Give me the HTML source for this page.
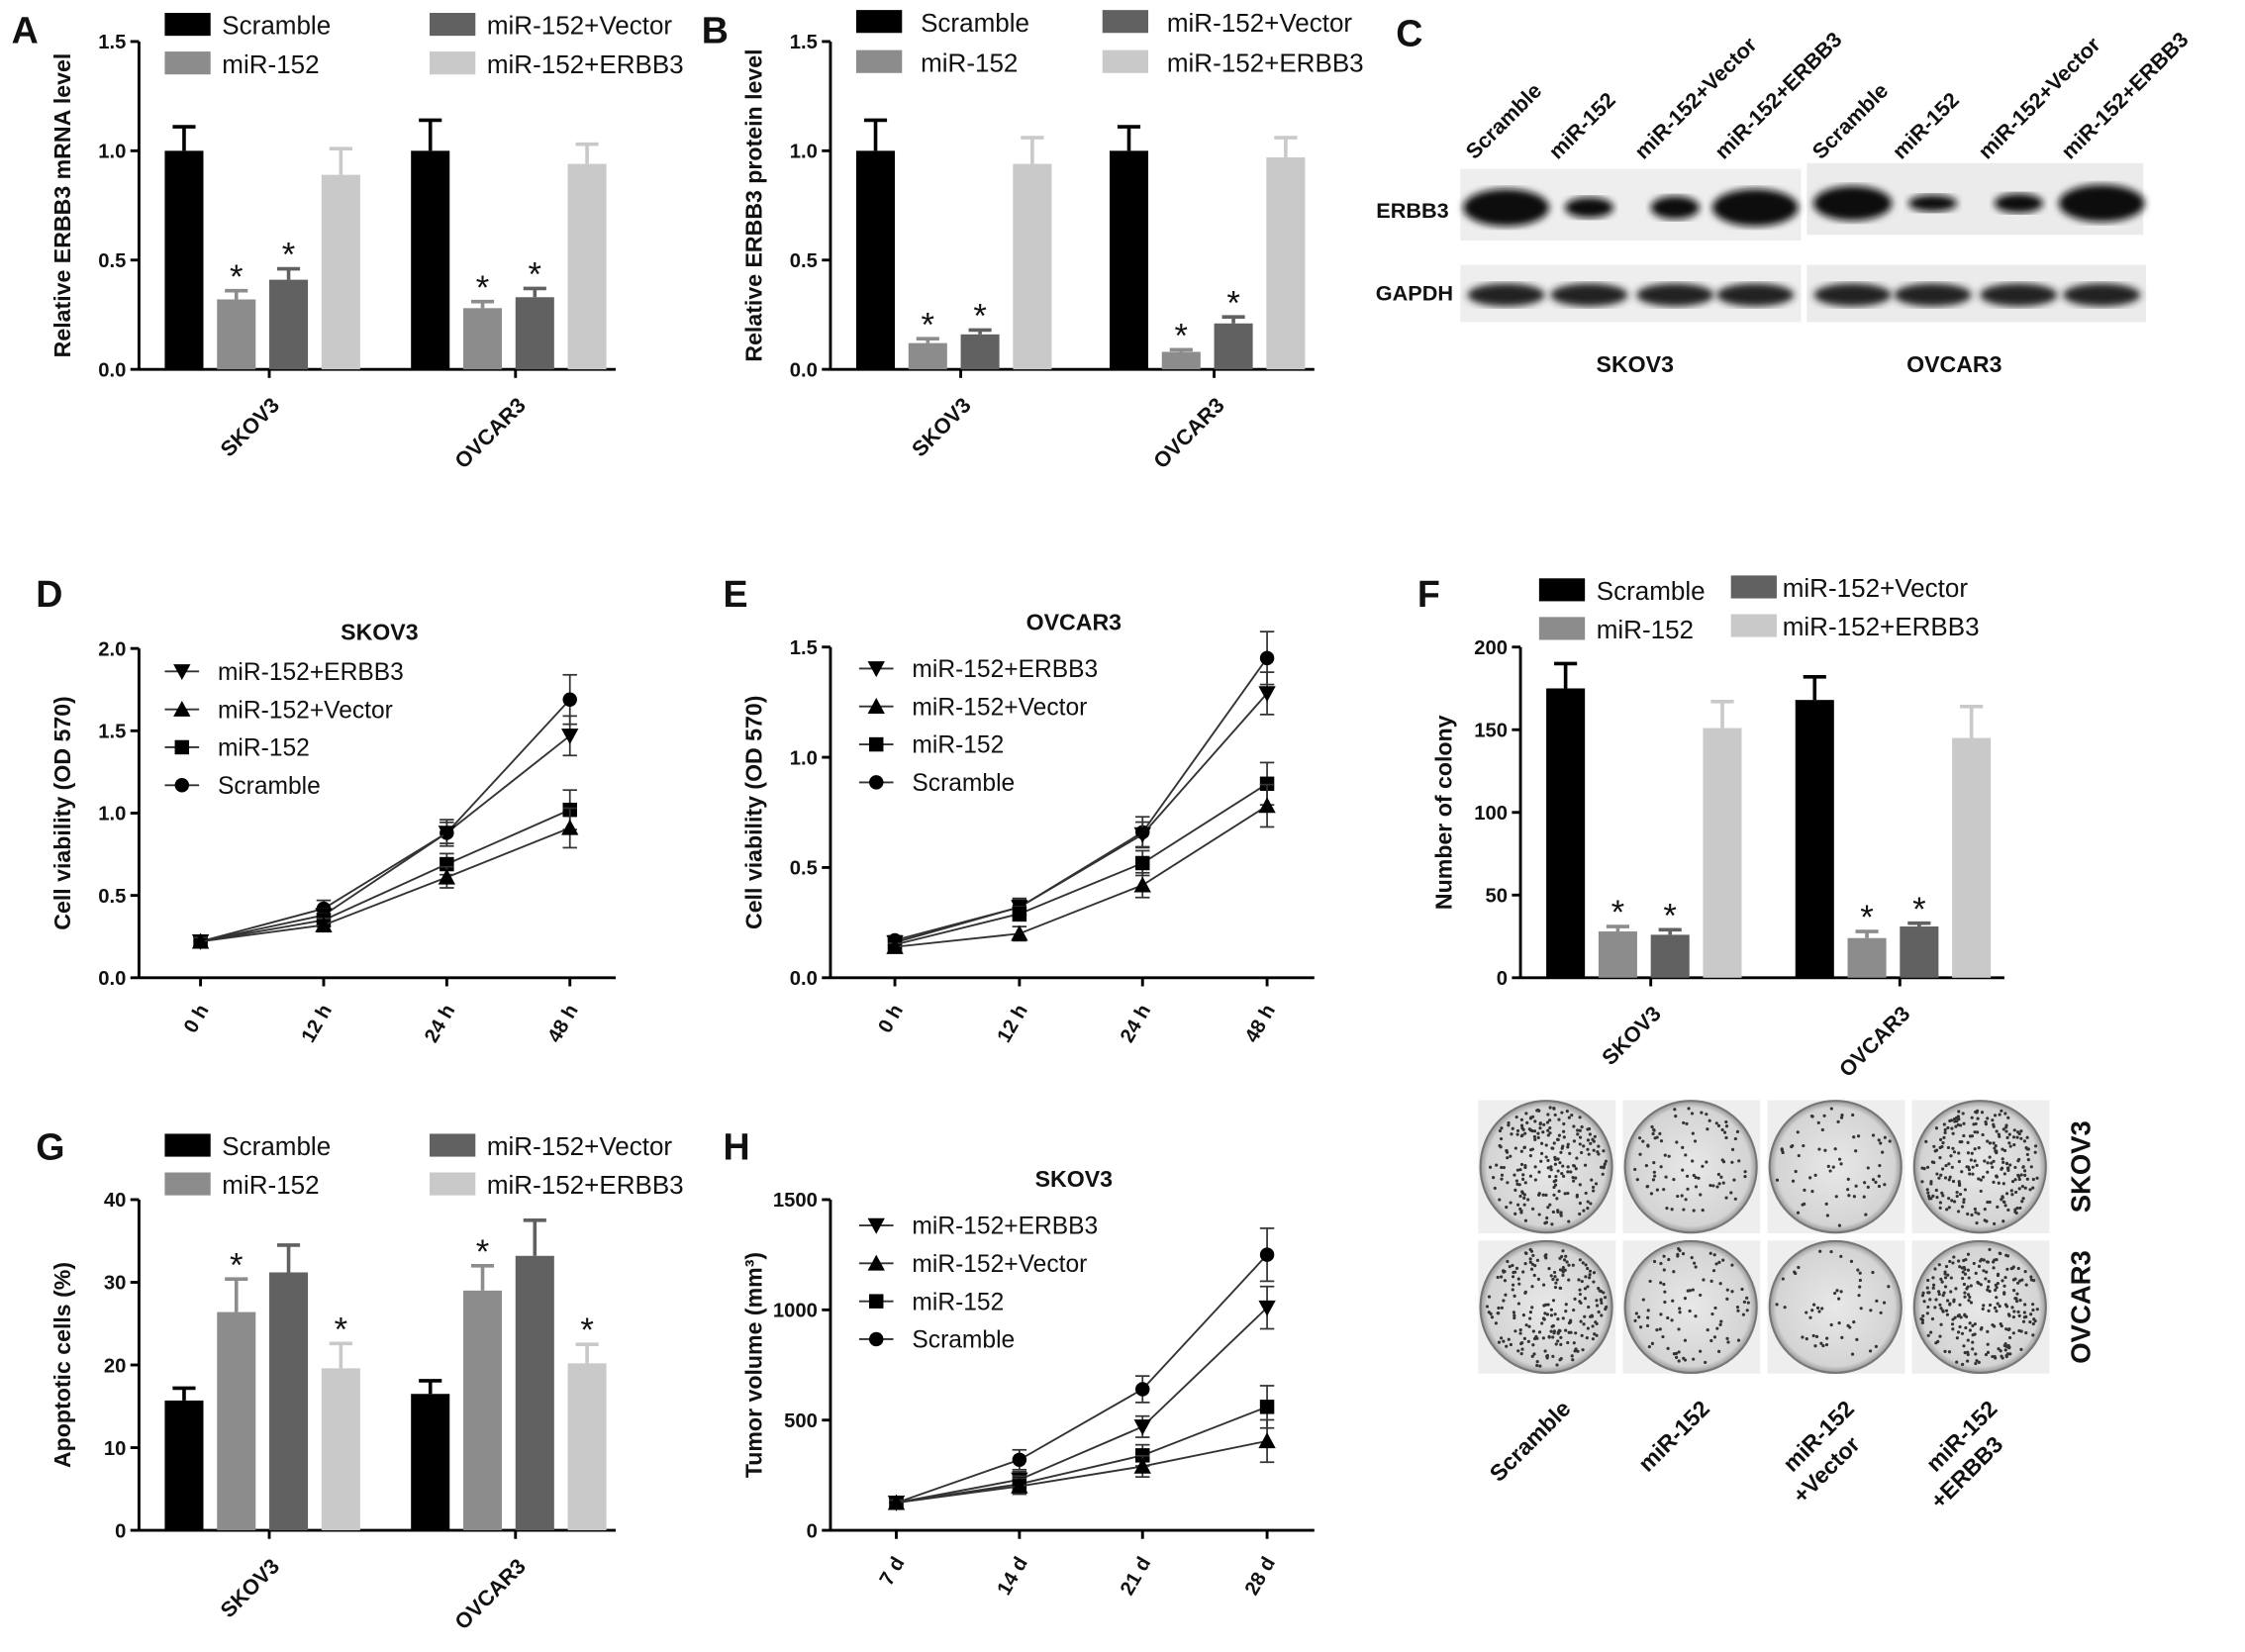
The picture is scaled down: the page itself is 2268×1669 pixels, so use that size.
<!DOCTYPE html>
<html><head><meta charset="utf-8"><style>
html,body{margin:0;padding:0;background:#fff}
svg{display:block}
text{font-family:"Liberation Sans",Arial,sans-serif}
</style></head><body>
<svg id="fig" width="2268" height="1669" viewBox="0 0 1568 1154" xmlns="http://www.w3.org/2000/svg">
<defs>
<filter id="blur"><feGaussianBlur stdDeviation="2.5"/></filter>
<radialGradient id="plate" cx="50%" cy="50%" r="50%"><stop offset="0" stop-color="#e8e8e8"/><stop offset="0.9" stop-color="#d4d4d4"/><stop offset="1" stop-color="#999"/></radialGradient>
</defs>
<g id="root"></g>
</svg>
<script>
// ---------- data ----------
const groups = ["SKOV3","OVCAR3"];
const barSeries = ["Scramble","miR-152","miR-152+Vector","miR-152+ERBB3"];
const barColors = ["#000000","#8c8c8c","#616161","#c9c9c9"];
// Panel A
const aVals = [[1.0,0.32,0.41,0.89],[1.0,0.28,0.33,0.94]];
const aErr  = [[0.11,0.04,0.05,0.12],[0.14,0.03,0.04,0.09]];
const aTicks = [0,0.5,1.0,1.5];
// Panel B
const bVals = [[1.0,0.12,0.16,0.94],[1.0,0.08,0.21,0.97]];
const bErr  = [[0.14,0.02,0.02,0.12],[0.11,0.01,0.03,0.09]];
// Panel F
const fVals = [[175,28,26,151],[168,24,31,145]];
const fErr  = [[15,3,3,16],[14,4,2,19]];
const fTicks = [0,50,100,150,200];
// Panel G
const gVals = [[15.7,26.4,31.2,19.6],[16.5,29.0,33.2,20.2]];
const gErr  = [[1.5,4.0,3.3,3.0],[1.6,3.0,4.3,2.3]];
const gTicks = [0,10,20,30,40];
// Panel D
const timeD = ["0 h","12 h","24 h","48 h"];
const dScr = [0.22,0.42,0.88,1.69];
const dErb = [0.22,0.38,0.88,1.47];
const dVec = [0.22,0.32,0.61,0.91];
const dMir = [0.22,0.35,0.69,1.02];
const dErrs = [0.03,0.05,0.08,0.15];
const dTicks = [0,0.5,1.0,1.5,2.0];
// Panel E
const eScr = [0.17,0.32,0.66,1.45];
const eErb = [0.16,0.32,0.65,1.29];
const eMir = [0.15,0.29,0.52,0.88];
const eVec = [0.14,0.20,0.42,0.78];
const eErrs = [0.02,0.04,0.07,0.12];
const eTicks = [0,0.5,1.0,1.5];
// Panel H
const timeH = ["7 d","14 d","21 d","28 d"];
const hScr = [125,320,640,1250];
const hErb = [125,230,470,1010];
const hMir = [125,210,340,560];
const hVec = [125,200,290,405];
const hErrs = [15,45,60,120];
const hTicks = [0,500,1000,1500];
const lineLegend = ["miR-152+ERBB3","miR-152+Vector","miR-152","Scramble"];
// Panel C
const blotLanes = ["Scramble","miR-152","miR-152+Vector","miR-152+ERBB3"];
const erbbSK = [1.0,0.35,0.45,1.0];
const erbbOV = [0.9,0.2,0.3,1.0];
const plateDensity = [[0.9,0.35,0.25,0.95],[0.85,0.35,0.2,0.95]];

// ---------- helpers ----------
const NS="http://www.w3.org/2000/svg";
const root=document.getElementById('root');
function el(tag,attrs,parent,txt){const e=document.createElementNS(NS,tag);for(const k in attrs)e.setAttribute(k,attrs[k]);if(txt!==undefined)e.textContent=txt;(parent||root).appendChild(e);return e;}
function grp(name,parent){const g=el('g',{},parent);


return g;}
function label(g,x,y,t,size,opts){opts=opts||{};const a={x:x,y:y,'font-size':size,'font-weight':opts.w||'normal','text-anchor':opts.a||'start',fill:'#111'};if(opts.rot!==undefined)a.transform=`rotate(${opts.rot} ${x} ${y})`;return el('text',a,g,t);}

function yAxis(g,x0,y0,y1,ticks,vmax,title,fmt){
  const sy=v=>y0-(v/vmax)*(y0-y1);
  el('line',{x1:x0,y1:y0,x2:x0,y2:y1,stroke:'#000','stroke-width':2},g);
  ticks.forEach(t=>{el('line',{x1:x0-6,y1:sy(t),x2:x0,y2:sy(t),stroke:'#000','stroke-width':2},g);
    label(g,x0-9,sy(t)+5,fmt(t),14,{w:'bold',a:'end'});});
  label(g,x0-48,(y0+y1)/2,title,16,{w:'bold',a:'middle',rot:-90});
  return sy;
}
function star(g,x,y){label(g,x,y+10,'*',24,{a:'middle'});}

function barPanel(name,x0,y0,y1,xEnd,ticks,vmax,vals,errs,starIdx,title,fmt,groupX,legendPos){
  const g=grp(name);
  const sy=yAxis(g,x0,y0,y1,ticks,vmax,title,fmt);
  el('line',{x1:x0,y1:y0,x2:xEnd,y2:y0,stroke:'#000','stroke-width':2},g);
  const bw=27, step=36.5;
  groups.forEach((gr,gi)=>{
    vals[gi].forEach((v,si)=>{
      const bx=groupX[gi]+si*step;
      const b=el('rect',{x:bx,y:sy(v),width:bw,height:y0-sy(v),fill:barColors[si]},g);
      
      
      const cx=bx+bw/2, top=sy(v+errs[gi][si]);
      el('line',{x1:cx,y1:sy(v),x2:cx,y2:top,stroke:barColors[si],'stroke-width':2.5},g);
      el('line',{x1:cx-8,y1:top,x2:cx+8,y2:top,stroke:barColors[si],'stroke-width':2.5},g);
      if(starIdx.includes(si)) star(g,cx,top-12);
    });
    const mx=groupX[gi]+2*step;
    label(g,mx+8,y0+26,gr,15,{w:'bold',a:'end',rot:-45});
    el('line',{x1:mx,y1:y0,x2:mx,y2:y0+6,stroke:'#000','stroke-width':2},g);
  });
  legendPos.forEach((p,i)=>{
    el('rect',{x:p[0],y:p[1]-8,width:32,height:16,fill:barColors[i]},g);
    label(g,p[0]+p[2],p[1]+7,barSeries[i],18);
  });
}

function marker(g,type,x,y){
  const s=6;
  if(type==='circle') el('circle',{cx:x,cy:y,r:5,fill:'#000'},g);
  else if(type==='square') el('rect',{x:x-5,y:y-5,width:10,height:10,fill:'#000'},g);
  else if(type==='up') el('polygon',{points:`${x},${y-s} ${x-s},${y+5} ${x+s},${y+5}`,fill:'#000'},g);
  else el('polygon',{points:`${x},${y+s} ${x-s},${y-5} ${x+s},${y-5}`,fill:'#000'},g);
}
function linePanel(name,x0,y0,y1,xEnd,ticks,vmax,xs,xlabels,series,types,errs,title,ytitle,fmt,legX,legY,titleX,titleY){
  const g=grp(name);
  const sy=yAxis(g,x0,y0,y1,ticks,vmax,ytitle,fmt);
  el('line',{x1:x0,y1:y0,x2:xEnd,y2:y0,stroke:'#000','stroke-width':2},g);
  xs.forEach((x,i)=>{el('line',{x1:x,y1:y0,x2:x,y2:y0+6,stroke:'#000','stroke-width':2},g);
    label(g,x+6,y0+22,xlabels[i],14,{w:'bold',a:'end',rot:-60});});
  series.forEach((s,k)=>{
    const pts=s.map((v,i)=>xs[i]+','+sy(v)).join(' ');
    const pl=el('polyline',{points:pts,fill:'none',stroke:'#333','stroke-width':1.3},g);
    
    
    s.forEach((v,i)=>{
      const e=errs[i]*(k===0?1:0.8);
      el('line',{x1:xs[i],y1:sy(v-e),x2:xs[i],y2:sy(v+e),stroke:'#333','stroke-width':1.2},g);
      el('line',{x1:xs[i]-5,y1:sy(v+e),x2:xs[i]+5,y2:sy(v+e),stroke:'#333','stroke-width':1.2},g);
      el('line',{x1:xs[i]-5,y1:sy(v-e),x2:xs[i]+5,y2:sy(v-e),stroke:'#333','stroke-width':1.2},g);
      marker(g,types[k],xs[i],sy(v));
    });
  });
  const legTypes=['down','up','square','circle'];
  lineLegend.forEach((t,i)=>{const y=legY+i*26.5;
    el('line',{x1:legX-12,y1:y,x2:legX+12,y2:y,stroke:'#333','stroke-width':1.3},g);
    marker(g,legTypes[i],legX,y);
    label(g,legX+25,y+6,t,17);});
  label(g,titleX,titleY,title,16,{w:'bold',a:'middle'});
}
const f1=v=>v.toFixed(1), f0=v=>String(v);

[["A",8,30],["B",490,30],["C",975,32],["D",25,424],["E",505,424],["F",990,424],["G",25,810],["H",505,810]].forEach(p=>{
  const t=label(root,p[1],p[2],p[0],26,{w:'bold'});
  
  
});

function L(c1x,c2x,y1,y2,off){return [[c1x,y1,off],[c1x,y2,off],[c2x,y1,off],[c2x,y2,off]];}
barPanel('panel-a-mrna-chart',97,258,29,430,aTicks,1.5,aVals,aErr,[1,2],'Relative ERBB3 mRNA level',f1,[115,287],L(115,300,17,44,40));
barPanel('panel-b-protein-chart',580,258,29,918,aTicks,1.5,bVals,bErr,[1,2],'Relative ERBB3 protein level',f1,[598,775],L(598,770,15,43,45));
barPanel('panel-f-colony-chart',1062,683,452,1400,fTicks,200,fVals,fErr,[1,2],'Number of colony',f0,[1080,1254],[[1075,412,40],[1075,439,40],[1209,410,36],[1209,437,36]]);
barPanel('panel-g-apoptosis-chart',97,1069,838,430,gTicks,40,gVals,gErr,[1,3],'Apoptotic cells (%)',f0,[115,287],L(115,300,800,827,40));

linePanel('panel-d-skov3-viability',97,683,453,430,dTicks,2.0,[140,226,312,398],timeD,[dScr,dErb,dMir,dVec],['circle','down','square','up'],dErrs,'SKOV3','Cell viability (OD 570)',f1,127,469,265,447);
linePanel('panel-e-ovcar3-viability',580,683,452,918,eTicks,1.5,[625,712,798,885],timeD,[eScr,eErb,eMir,eVec],['circle','down','square','up'],eErrs,'OVCAR3','Cell viability (OD 570)',f1,612,467,750,440);
linePanel('panel-h-tumor-volume',580,1069,838,918,hTicks,1500,[626,712,798,885],timeH,[hScr,hErb,hMir,hVec],['circle','down','square','up'],hErrs,'SKOV3','Tumor volume (mm³)',f0,612,856,750,829);

// ---------- Panel C western blot ----------
(function(){
  const g=grp('panel-c-western-blot');
  el('rect',{x:1020,y:118,width:238,height:50,fill:'#eeeeee'},g);
  el('rect',{x:1262,y:114,width:235,height:50,fill:'#ebebeb'},g);
  el('rect',{x:1020,y:185,width:238,height:40,fill:'#eeeeee'},g);
  el('rect',{x:1262,y:185,width:237,height:40,fill:'#ebebeb'},g);
  const skX=[1052,1110,1170,1226], ovX=[1294,1350,1410,1468];
  [[skX,erbbSK,145],[ovX,erbbOV,142]].forEach(set=>{
    set[0].forEach((x,i)=>{const v=set[1][i];
      el('ellipse',{cx:x,cy:set[2],rx:26*Math.max(0.5,v)+4,ry:4+9*v,fill:'#111',filter:'url(#blur)'},g);
      el('ellipse',{cx:x,cy:206,rx:27,ry:8,fill:'#222',filter:'url(#blur)'},g);
    });
    set[0].forEach((x,i)=>label(g,x-22,112,blotLanes[i],15,{w:'bold',rot:-45}));
  });
  label(g,1012,152,'ERBB3',15,{w:'bold',a:'end'});
  label(g,1015,210,'GAPDH',15,{w:'bold',a:'end'});
  label(g,1142,260,'SKOV3',16,{w:'bold',a:'middle'});
  label(g,1365,260,'OVCAR3',16,{w:'bold',a:'middle'});
})();

// ---------- colony plates ----------
(function(){
  const g=grp('panel-f-colony-plates');
  let seed=7; const rnd=()=>{seed=(seed*16807)%2147483647;return seed/2147483647;};
  const cols=[1032,1133,1234,1335], rows=[768,866];
  rows.forEach((ry,r)=>cols.forEach((cx,c)=>{
    el('rect',{x:cx,y:ry,width:97,height:94,fill:'#eee',stroke:'#fff'},g);
    const ox=cx+48, oy=ry+47;
    el('circle',{cx:ox,cy:oy,r:46,fill:'url(#plate)',stroke:'#777','stroke-width':1.5},g);
    const n=Math.round(plateDensity[r][c]*260);
    for(let i=0;i<n;i++){const a=rnd()*6.283, d=Math.sqrt(rnd())*42;
      el('circle',{cx:ox+d*Math.cos(a),cy:oy+d*Math.sin(a),r:1.1,fill:'#333'},g);}
  }));
  label(g,1460,815,'SKOV3',19,{w:'bold',a:'middle',rot:-90});
  label(g,1460,913,'OVCAR3',19,{w:'bold',a:'middle',rot:-90});
  label(g,1098,985,'Scramble',16,{w:'bold',a:'end',rot:-45});
  label(g,1195,985,'miR-152',16,{w:'bold',a:'end',rot:-45});
  label(g,1296,985,'miR-152',16,{w:'bold',a:'end',rot:-45});
  label(g,1300,1010,'+Vector',16,{w:'bold',a:'end',rot:-45});
  label(g,1396,985,'miR-152',16,{w:'bold',a:'end',rot:-45});
  label(g,1400,1010,'+ERBB3',16,{w:'bold',a:'end',rot:-45});
})();
</script>
</body></html>
